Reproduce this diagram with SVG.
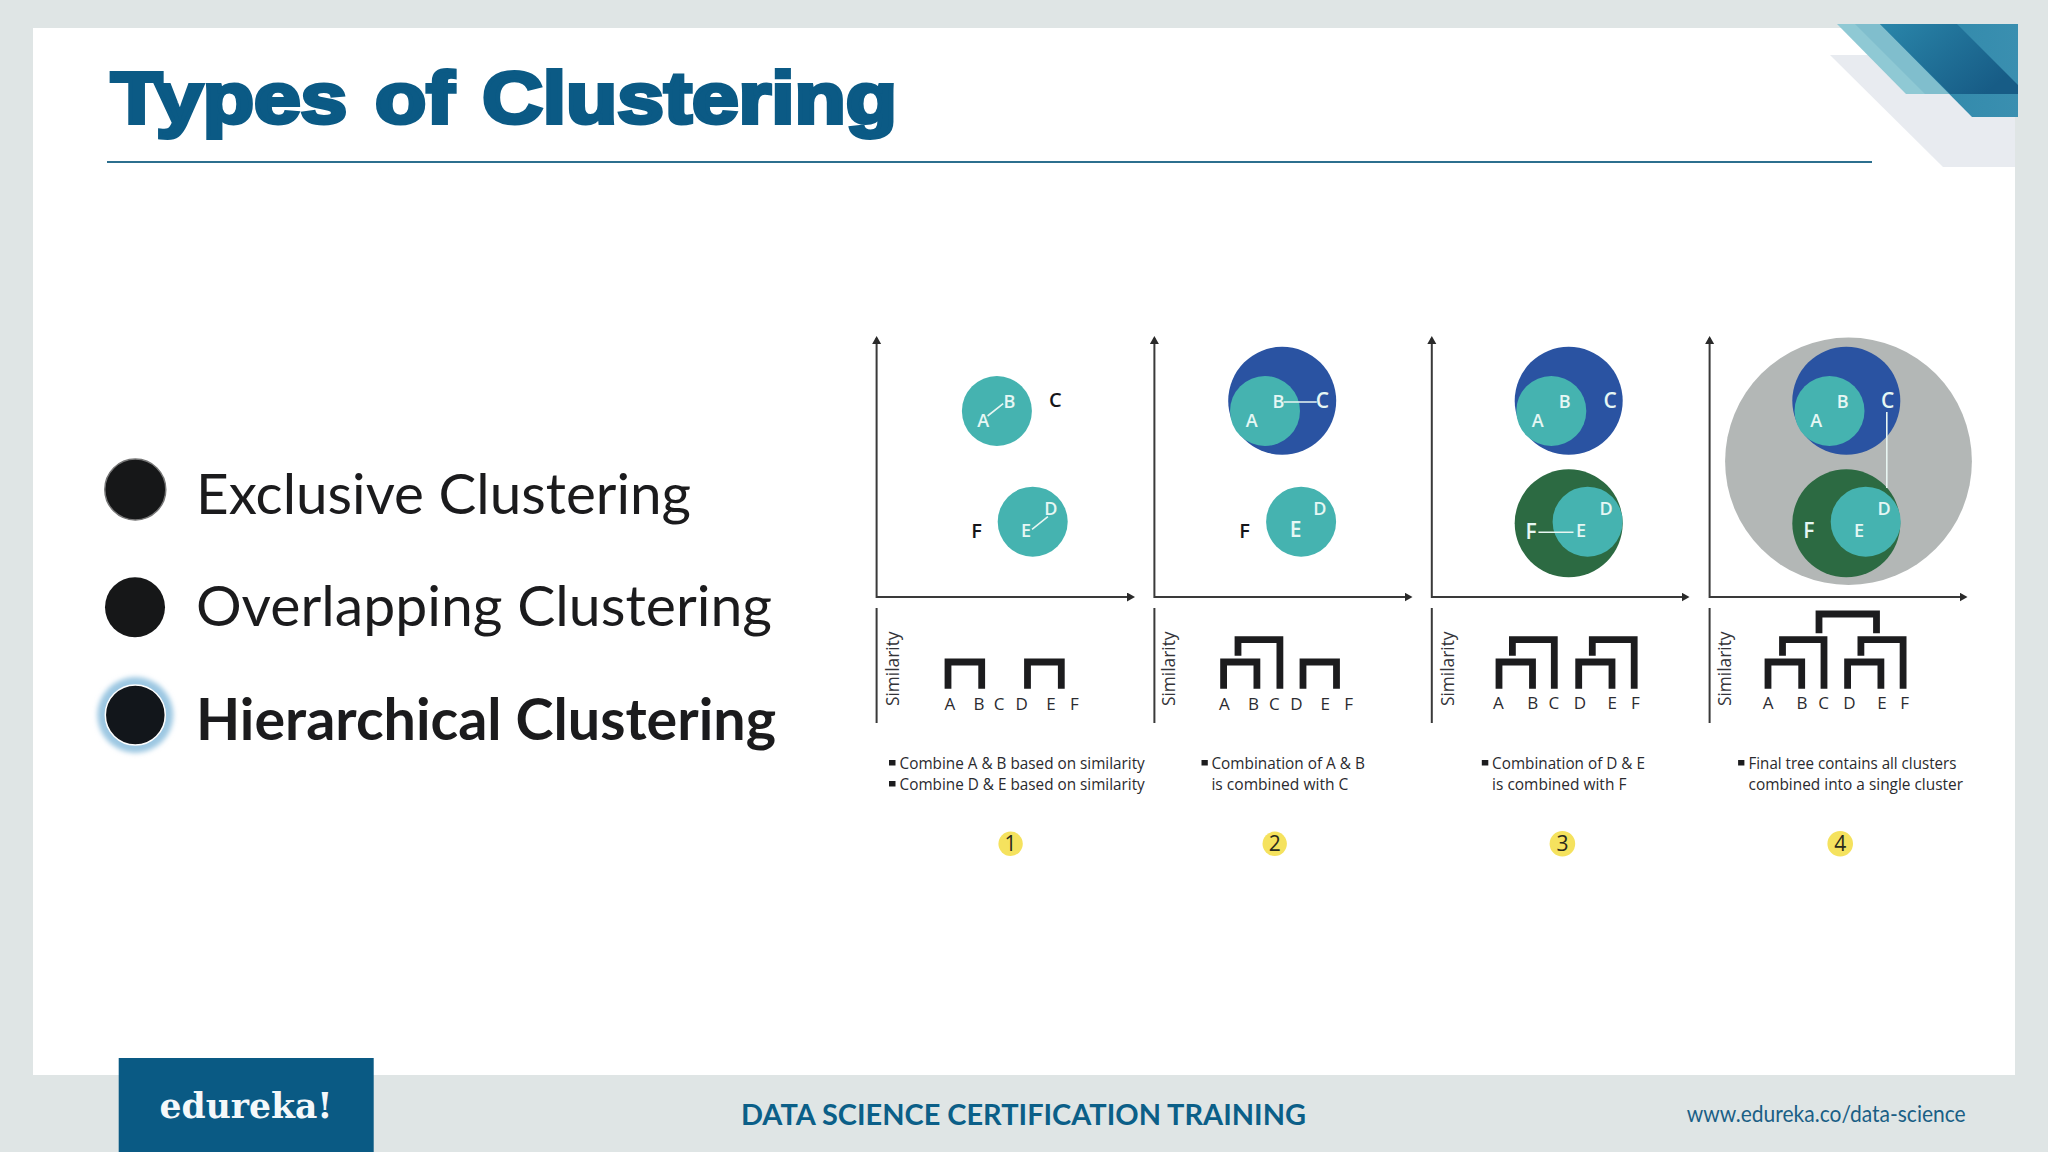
<svg xmlns="http://www.w3.org/2000/svg" width="2048" height="1152" viewBox="0 0 2048 1152">
<defs>
<style>
.ax{stroke:#3a3a3a;stroke-width:2;fill:none}
.vl{stroke:#3a3a3a;stroke-width:2;fill:none}
.tree{stroke:#1c1c1e;stroke-width:6.800;fill:none;stroke-linejoin:miter}
.w{stroke:#e8f6f2;stroke-width:1.600;fill:none}
.teal{fill:#45b3b0}.blue{fill:#2a53a2}.green{fill:#2c6a42}.grey{fill:#b3b7b6}
text{font-family:"Open Sans","Liberation Sans",sans-serif}
.l{font-size:18px;font-weight:600;fill:#e6f7f4;text-anchor:middle}
.lb{font-size:21px;font-weight:600;fill:#e6f7f4;text-anchor:middle}
.k{font-size:20px;font-weight:600;fill:#15151a;text-anchor:middle}
.t{font-size:17px;fill:#2b2b30;text-anchor:middle}
.d{font-size:15.500px;fill:#2a2a2e}
.s{font-size:19px;fill:#333338}
.n{font-size:21px;fill:#2a2a1c;text-anchor:middle}
.y{fill:#f5e25e}
.b{fill:#1c1c1e}
.h{font-family:Lato,"Liberation Sans",sans-serif;font-size:57px;fill:#1b1b1d}
</style>
<marker id="arr" markerWidth="10" markerHeight="10" refX="6" refY="4.500" orient="auto-start-reverse" markerUnits="userSpaceOnUse"><path d="M0,0L8,4.500L0,9Z" fill="#2a2a2a"/></marker>
<linearGradient id="g1" x1="0" y1="0" x2="1" y2="0.6"><stop offset="0" stop-color="#2a86aa"/><stop offset="1" stop-color="#175c86"/></linearGradient>
<linearGradient id="g2" x1="0" y1="0" x2="1" y2="0"><stop offset="0" stop-color="#2d86a8"/><stop offset="1" stop-color="#3a8fb0"/></linearGradient>
<filter id="glow" x="-30%" y="-30%" width="160%" height="160%"><feGaussianBlur stdDeviation="2.500"/></filter>
</defs>
<rect width="2048" height="1152" fill="#dfe5e5"/>
<rect x="33" y="28" width="1982" height="1047" fill="#fff"/>
<g id="corner">
<path d="M1830,55H2015V167H1943Z" fill="#e8ebf0"/>
<path d="M1837,24H1880L1950,94H1906Z" fill="#8fc9d4"/>
<path d="M1855,24H1880L1950,94H1925Z" fill="#7cbccb" opacity=".8"/>
<path d="M1880,24H2018V117H1972Z" fill="url(#g2)"/>
<path d="M1880,24H1957L2018,85V94H1950Z" fill="url(#g1)"/>
</g>
<g id="title">
<text x="111" y="122.500" font-size="73" font-weight="700" style="font-family:'Liberation Sans',Arial,sans-serif;word-spacing:4px" fill="#0b5a85" stroke="#0b5a85" stroke-width="4" textLength="786" lengthAdjust="spacingAndGlyphs">Types of Clustering</text>
<rect x="107" y="161" width="1765" height="2" fill="#2c6f8e"/>
</g>
<g id="bullet-exclusive"><circle cx="135.300" cy="489.500" r="30.500" fill="#161718" stroke="#777" stroke-width="1.500"/><text class="h" x="196" y="514" textLength="495" lengthAdjust="spacingAndGlyphs">Exclusive Clustering</text></g>
<g id="bullet-overlapping"><circle cx="135" cy="607.300" r="30" fill="#161718"/><text class="h" x="196" y="626" textLength="576" lengthAdjust="spacingAndGlyphs">Overlapping Clustering</text></g>
<g id="bullet-hierarchical"><circle cx="135.300" cy="715" r="38" fill="#9cc7e2" filter="url(#glow)"/><circle cx="135.300" cy="715" r="30" fill="#12161b" stroke="#fff" stroke-width="1.500"/><text class="h" x="196" y="739.500" font-weight="700" textLength="580" lengthAdjust="spacingAndGlyphs">Hierarchical Clustering</text></g>

<g id="panel-1">
<circle class="teal" cx="996.900" cy="411" r="35"/>
<circle class="teal" cx="1032.700" cy="521.700" r="35"/>
<text class="l" x="983.200" y="426.700">A</text><text class="l" x="1009.400" y="407.700">B</text><text class="k" x="1055.300" y="407.300">C</text>
<text class="l" x="1050.900" y="514.700">D</text><text class="l" x="1026.100" y="536.700">E</text><text class="k" x="976.500" y="538.300">F</text>
<text class="s" transform="translate(898.800 706) rotate(-90)" textLength="74.500" lengthAdjust="spacingAndGlyphs">Similarity</text>
<text class="t" x="949.900" y="710">A</text><text class="t" x="979.100" y="710">B</text><text class="t" x="999.100" y="710">C</text><text class="t" x="1021.600" y="710">D</text><text class="t" x="1050.900" y="710">E</text><text class="t" x="1074.500" y="710">F</text>
<rect class="b" x="889" y="760" width="6.500" height="5.500"/><rect class="b" x="889" y="781" width="6.500" height="5.500"/>
<text class="d" x="899.600" y="769.300" textLength="245.200" lengthAdjust="spacingAndGlyphs">Combine A &amp; B based on similarity</text>
<text class="d" x="899.600" y="790.300" textLength="245.200" lengthAdjust="spacingAndGlyphs">Combine D &amp; E based on similarity</text>
<circle class="y" cx="1010.600" cy="843.800" r="12.200"/><text class="n" x="1010.600" y="851">1</text>
</g>

<g id="panel-2">
<circle class="blue" cx="1282.200" cy="400.800" r="54"/>
<circle class="teal" cx="1265" cy="411" r="35"/>
<circle class="teal" cx="1301.100" cy="521.700" r="35"/>
<text class="l" x="1278.400" y="407.700">B</text><text class="lb" x="1322.400" y="408">C</text><text class="l" x="1251.700" y="427.300">A</text>
<text class="k" x="1244.700" y="538.300">F</text><text class="lb" x="1295.700" y="537">E</text><text class="l" x="1319.800" y="514.700">D</text>
<text class="s" transform="translate(1175.200 706) rotate(-90)" textLength="74.500" lengthAdjust="spacingAndGlyphs">Similarity</text>
<text class="t" x="1224.400" y="710">A</text><text class="t" x="1253.600" y="710">B</text><text class="t" x="1274.300" y="710">C</text><text class="t" x="1296.500" y="710">D</text><text class="t" x="1325.300" y="710">E</text><text class="t" x="1348.600" y="710">F</text>
<rect class="b" x="1201.500" y="760" width="6.300" height="5.500"/>
<text class="d" x="1211.400" y="769.300" textLength="153.500" lengthAdjust="spacingAndGlyphs">Combination of A &amp; B</text>
<text class="d" x="1211.400" y="790.300" textLength="137" lengthAdjust="spacingAndGlyphs">is combined with C</text>
<circle class="y" cx="1274.700" cy="843.800" r="12.200"/><text class="n" x="1274.700" y="851">2</text>
</g>

<g id="panel-3">
<circle class="blue" cx="1568.700" cy="400.800" r="54"/>
<circle class="teal" cx="1551.300" cy="411" r="35"/>
<circle class="green" cx="1568.700" cy="523.300" r="54"/>
<circle class="teal" cx="1587.600" cy="521.700" r="35"/>
<text class="l" x="1537.600" y="427.300">A</text><text class="l" x="1564.600" y="407.700">B</text><text class="lb" x="1610.100" y="407.700">C</text>
<text class="lb" x="1531" y="539">F</text><text class="l" x="1580.900" y="537.300">E</text><text class="l" x="1606.100" y="514.700">D</text>
<text class="s" transform="translate(1454 706) rotate(-90)" textLength="74.500" lengthAdjust="spacingAndGlyphs">Similarity</text>
<text class="t" x="1498.400" y="708.700">A</text><text class="t" x="1532.800" y="708.700">B</text><text class="t" x="1553.900" y="708.700">C</text><text class="t" x="1579.800" y="708.700">D</text><text class="t" x="1612.300" y="708.700">E</text><text class="t" x="1635.300" y="708.700">F</text>
<rect class="b" x="1481.800" y="760" width="6.500" height="5.500"/>
<text class="d" x="1492.100" y="769.300" textLength="152.800" lengthAdjust="spacingAndGlyphs">Combination of D &amp; E</text>
<text class="d" x="1492.100" y="790.300" textLength="134.300" lengthAdjust="spacingAndGlyphs">is combined with F</text>
<circle class="y" cx="1562.400" cy="843.800" r="12.800"/><text class="n" x="1562.400" y="851">3</text>
</g>

<g id="panel-4">
<ellipse class="grey" cx="1848.500" cy="461.300" rx="123.400" ry="123.700"/>
<circle class="blue" cx="1846.300" cy="400.800" r="54"/>
<circle class="teal" cx="1829.500" cy="411" r="35"/>
<circle class="green" cx="1846.300" cy="523.300" r="54"/>
<circle class="teal" cx="1865.700" cy="521.700" r="35"/>
<text class="l" x="1816.200" y="427.300">A</text><text class="l" x="1842.800" y="407.700">B</text><text class="lb" x="1887.600" y="407.700">C</text>
<text class="lb" x="1808.800" y="538.300">F</text><text class="l" x="1859.100" y="537.300">E</text><text class="l" x="1884.200" y="514.700">D</text>
<text class="s" transform="translate(1730.700 706) rotate(-90)" textLength="74.500" lengthAdjust="spacingAndGlyphs">Similarity</text>
<text class="t" x="1768.100" y="708.700">A</text><text class="t" x="1802.100" y="708.700">B</text><text class="t" x="1823.600" y="708.700">C</text><text class="t" x="1849.400" y="708.700">D</text><text class="t" x="1882" y="708.700">E</text><text class="t" x="1904.600" y="708.700">F</text>
<rect class="b" x="1738.100" y="760" width="6.300" height="5.500"/>
<text class="d" x="1748.500" y="769.300" textLength="207.900" lengthAdjust="spacingAndGlyphs">Final tree contains all clusters</text>
<text class="d" x="1748.500" y="790.300" textLength="214.500" lengthAdjust="spacingAndGlyphs">combined into a single cluster</text>
<circle class="y" cx="1840.200" cy="843.800" r="12.800"/><text class="n" x="1840.200" y="851">4</text>
</g>

<g id="connectors">
<path class="ax" d="M876.600,338V597H1133" marker-start="url(#arr)" marker-end="url(#arr)"/>
<path class="ax" d="M1154.400,338V597H1410.500" marker-start="url(#arr)" marker-end="url(#arr)"/>
<path class="ax" d="M1431.800,338V597H1687.500" marker-start="url(#arr)" marker-end="url(#arr)"/>
<path class="ax" d="M1709.600,338V597H1965.500" marker-start="url(#arr)" marker-end="url(#arr)"/>
<path class="vl" d="M876.600,608V723M1154.400,608V723M1431.800,608V723M1709.600,608V723"/>
<path class="w" d="M987.600,416L1003.200,403.700M1032,529.300L1047.900,516.700M1283.500,402H1316.800M1538.400,532.300H1573.500M1886.800,412V488"/>
<path class="tree" d="M948,688.700V662H981.700V688.700M1027.500,688.700V662H1061.300V688.700"/>
<path class="tree" d="M1223.600,688.700V662H1256.900V688.700M1238,655.700V639.700H1279.900V688.700M1303,688.700V662H1336.500V688.700"/>
<path class="tree" d="M1499,688.700V662H1532.500V688.700M1512.400,655.700V639.700H1554.300V688.700M1578.700,688.700V662H1612V688.700M1592.300,655.700V639.700H1634.200V688.700"/>
<path class="tree" d="M1768,688.700V662H1801.700V688.700M1782.500,655.700V639.700H1824V688.700M1847.600,688.700V662H1880.900V688.700M1860.900,655.700V639.700H1903.100V688.700M1819,633.300V614H1876.500V633.300"/>
</g>

<g id="footer">
<rect x="118.700" y="1058" width="255" height="94" fill="#0a5a84"/>
<text x="159.500" y="1117.700" font-size="36" font-weight="700" fill="#f4f8fa" style="font-family:'DejaVu Serif',serif" textLength="173" lengthAdjust="spacingAndGlyphs">edureka!</text>
<text x="741" y="1125" font-size="29" font-weight="700" fill="#0b5f88" style="font-family:Lato,sans-serif" textLength="565" lengthAdjust="spacingAndGlyphs">DATA SCIENCE CERTIFICATION TRAINING</text>
<text x="1686.700" y="1121.700" font-size="24" fill="#1a5f85" style="font-family:Lato,sans-serif" textLength="279" lengthAdjust="spacingAndGlyphs">www.edureka.co/data-science</text>
</g>
</svg>
